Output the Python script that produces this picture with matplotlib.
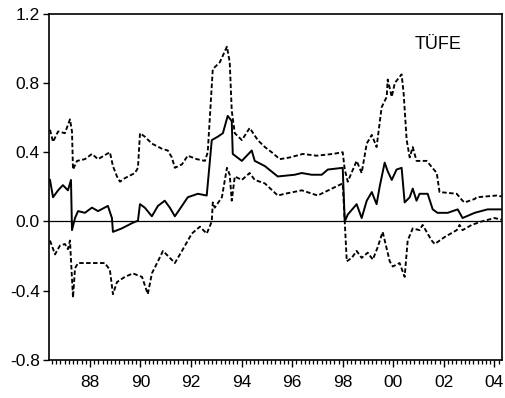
import matplotlib
matplotlib.use("Agg")
import matplotlib.pyplot as plt
from matplotlib.ticker import FixedLocator, MultipleLocator

plt.rcParams["font.family"] = ["Liberation Sans", "DejaVu Sans"]
plt.rcParams["axes.unicode_minus"] = False

# ── Data (decimal years, coefficient values) ───────────────────────────────────

UPPER_T = [1986.42, 1986.54, 1986.74, 1987.01, 1987.21, 1987.29, 1987.33, 1987.49,
           1987.80, 1988.08, 1988.32, 1988.67, 1988.79, 1988.91, 1989.07, 1989.19,
           1989.38, 1989.78, 1989.90, 1989.98, 1990.17, 1990.45, 1990.85, 1991.08,
           1991.24, 1991.36, 1991.64, 1991.87, 1992.23, 1992.55, 1992.66, 1992.86,
           1993.14, 1993.42, 1993.53, 1993.61, 1993.73, 1994.01, 1994.32, 1994.64,
           1994.92, 1995.19, 1995.51, 1995.91, 1996.42, 1996.97, 1997.60, 1998.00,
           1998.08, 1998.20, 1998.55, 1998.75, 1998.95, 1999.15, 1999.34, 1999.54,
           1999.74, 1999.78, 1999.94, 2000.06, 2000.33, 2000.41, 2000.53, 2000.65,
           2000.77, 2000.92, 2001.32, 2001.72, 2001.83, 2002.51, 2002.74, 2002.82,
           2003.22, 2003.30, 2004.09, 2004.28]
UPPER_V = [0.53, 0.46, 0.52, 0.51, 0.59, 0.52, 0.30, 0.35,
           0.36, 0.39, 0.36, 0.39, 0.40, 0.32, 0.26, 0.23,
           0.25, 0.28, 0.31, 0.51, 0.49, 0.45, 0.42, 0.41,
           0.37, 0.31, 0.33, 0.38, 0.36, 0.35, 0.40, 0.88,
           0.92, 1.01, 0.92, 0.64, 0.51, 0.47, 0.54, 0.47,
           0.43, 0.40, 0.36, 0.37, 0.39, 0.38, 0.39, 0.40,
           0.30, 0.23, 0.35, 0.28, 0.45, 0.50, 0.43, 0.66,
           0.72, 0.82, 0.72, 0.80, 0.85, 0.74, 0.47, 0.37,
           0.43, 0.35, 0.35, 0.28, 0.17, 0.16, 0.12, 0.11,
           0.13, 0.14, 0.15, 0.145]

COEF_T = [1986.42, 1986.54, 1986.74, 1986.93, 1987.13, 1987.25, 1987.29, 1987.41,
          1987.53, 1987.80, 1988.08, 1988.32, 1988.71, 1988.87, 1988.91, 1989.26,
          1989.66, 1989.90, 1989.98, 1990.17, 1990.45, 1990.69, 1990.96, 1991.16,
          1991.36, 1991.64, 1991.87, 1992.27, 1992.62, 1992.82, 1993.06, 1993.26,
          1993.45, 1993.61, 1993.65, 1994.01, 1994.40, 1994.52, 1994.92, 1995.43,
          1996.10, 1996.38, 1996.77, 1997.17, 1997.41, 1998.00, 1998.08, 1998.20,
          1998.55, 1998.75, 1998.95, 1999.15, 1999.34, 1999.46, 1999.66, 1999.78,
          1999.94, 2000.13, 2000.33, 2000.45, 2000.65, 2000.77, 2000.92, 2001.04,
          2001.36, 2001.56, 2001.75, 2002.15, 2002.55, 2002.74, 2003.22, 2003.73,
          2004.28]
COEF_V = [0.24, 0.14, 0.18, 0.21, 0.18, 0.24, -0.05, 0.02,
          0.06, 0.05, 0.08, 0.06, 0.09, 0.02, -0.06, -0.04,
          -0.01, 0.005, 0.10, 0.08, 0.03, 0.09, 0.12, 0.08,
          0.03, 0.09, 0.14, 0.16, 0.15, 0.47, 0.49, 0.51,
          0.61, 0.58, 0.39, 0.35, 0.41, 0.35, 0.32, 0.26,
          0.27, 0.28, 0.27, 0.27, 0.30, 0.31, 0.00, 0.04,
          0.10, 0.02, 0.12, 0.17, 0.10, 0.20, 0.34, 0.29,
          0.24, 0.30, 0.31, 0.11, 0.14, 0.19, 0.12, 0.16,
          0.16, 0.07, 0.05, 0.05, 0.07, 0.02, 0.05, 0.07,
          0.07]

LOWER_T = [1986.42, 1986.62, 1986.81, 1987.01, 1987.13, 1987.21, 1987.33, 1987.41,
           1987.53, 1987.92, 1988.32, 1988.59, 1988.79, 1988.91, 1989.07, 1989.38,
           1989.70, 1990.06, 1990.29, 1990.45, 1990.69, 1990.89, 1991.16, 1991.36,
           1991.64, 1992.03, 1992.35, 1992.62, 1992.82, 1992.86, 1992.94, 1993.22,
           1993.42, 1993.53, 1993.61, 1993.73, 1994.01, 1994.32, 1994.52, 1994.92,
           1995.43, 1995.71, 1996.38, 1997.01, 1997.57, 1998.00, 1998.08, 1998.16,
           1998.36, 1998.55, 1998.75, 1998.99, 1999.19, 1999.38, 1999.58, 1999.86,
           1999.98, 2000.25, 2000.45, 2000.57, 2000.77, 2001.04, 2001.16, 2001.52,
           2001.64, 2002.03, 2002.51, 2002.62, 2002.74, 2003.10, 2003.49, 2004.01,
           2004.28]
LOWER_V = [-0.11, -0.19, -0.14, -0.13, -0.16, -0.11, -0.44, -0.27,
           -0.24, -0.24, -0.24, -0.24, -0.28, -0.42, -0.35, -0.32,
           -0.30, -0.32, -0.42, -0.30, -0.23, -0.17, -0.21, -0.24,
           -0.17, -0.07, -0.03, -0.07, 0.00, 0.11, 0.08, 0.14,
           0.31, 0.27, 0.12, 0.26, 0.24, 0.28, 0.24, 0.22,
           0.15, 0.16, 0.18, 0.15, 0.19, 0.22, 0.00, -0.23,
           -0.21, -0.17, -0.21, -0.18, -0.22, -0.15, -0.06, -0.23,
           -0.26, -0.24, -0.32, -0.11, -0.04, -0.05, -0.02, -0.11,
           -0.13, -0.09, -0.05, -0.02, -0.05, -0.02, 0.00, 0.02,
           0.01]

YEAR_TICKS = [1988, 1990, 1992, 1994, 1996, 1998, 2000, 2002, 2004]
YEAR_LABELS = ["88", "90", "92", "94", "96", "98", "00", "02", "04"]
Y_TICKS = [-0.8, -0.4, 0.0, 0.4, 0.8, 1.2]
TITLE = "TÜFE"

INK = "black"

fig = plt.figure(figsize=(5.05, 3.98), dpi=100, facecolor="white")
ax = fig.add_axes([0.097, 0.0955, 0.897, 0.87])

ax.axhline(0, color=INK, linewidth=0.9, zorder=1)
ax.plot(UPPER_T, UPPER_V, color=INK, linewidth=1.35, dashes=(2.4, 1.3), zorder=3)
ax.plot(COEF_T, COEF_V, color=INK, linewidth=1.4, zorder=4)
ax.plot(LOWER_T, LOWER_V, color=INK, linewidth=1.35, dashes=(2.4, 1.3), zorder=3)

ax.set_xlim(1986.38, 2004.30)
ax.set_ylim(-0.8, 1.2)

ax.xaxis.set_major_locator(FixedLocator(YEAR_TICKS))
ax.set_xticklabels(YEAR_LABELS)
ax.xaxis.set_minor_locator(MultipleLocator(1 / 6))
ax.set_yticks(Y_TICKS)
ax.set_yticklabels([f"{v:.1f}" for v in Y_TICKS])

ax.tick_params(axis="x", which="major", direction="out", length=5, width=1.0,
               labelsize=12.5, pad=5.5, colors=INK)
ax.tick_params(axis="x", which="minor", direction="out", length=3, width=0.9,
               colors=INK)
ax.tick_params(axis="y", which="major", direction="out", length=4, width=1.0,
               labelsize=12.5, pad=2.5, colors=INK)

for side in ("left", "right", "top", "bottom"):
    ax.spines[side].set_linewidth(1.2)
    ax.spines[side].set_color(INK)

# label sits in the upper right corner, inside the frame
fig.text(0.867, 0.889, TITLE, fontsize=13, ha="center", va="center", color=INK)

fig.savefig("out.png", dpi=100, facecolor="white")
plt.close(fig)
